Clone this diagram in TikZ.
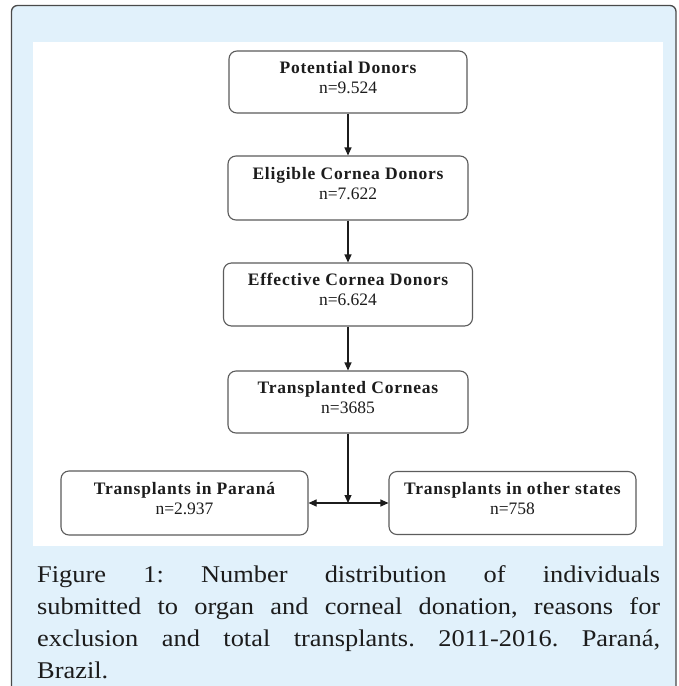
\documentclass[tikz,border=0pt]{standalone}
\usepackage{fontspec}
\setmainfont{Liberation Serif}
\newfontfamily\capfont{Liberation Serif}[FakeStretch=1.1]
\usetikzlibrary{arrows.meta}
\definecolor{panel}{HTML}{E1F1FB}
\definecolor{frame}{HTML}{4A4A4A}
\definecolor{boxline}{HTML}{5C5C5C}
\definecolor{ink}{HTML}{1C1C1C}
% head line (bold, tracked) over count, set a little above the box centre
\newcommand{\boxtext}[2]{\raisebox{3pt}[\height][\depth]{\begin{tabular}{@{}c@{}}%
  {\bfseries\addfontfeature{LetterSpace=4.5}#1}\\#2\end{tabular}}}
\tikzset{
  donorbox/.style={draw=boxline, line width=1.1pt, rounded corners=8pt, fill=white,
    align=center, text=ink, inner sep=0pt, font=\fontsize{17.5}{20}\selectfont},
  flow/.style={draw=ink, line width=1.1pt, -{Triangle[length=8pt,width=7pt]}},
}

\begin{document}
\begin{tikzpicture}[x=1pt, y=-1pt]
\useasboundingbox (0,0) rectangle (678,686);

% ================= frame and panel =================
\begin{scope}
  \clip (0,0) rectangle (678,686);
  \draw[frame, line width=1.3pt, fill=panel, rounded corners=6pt] (11.5,5.5) rectangle (676,730);
\end{scope}
\fill[white] (33,42) rectangle (663,546);

% ================= donor chain =================
\node[donorbox, minimum width=238pt, minimum height=62pt] (pot) at (348,82)  {\boxtext{Potential Donors}{n=9.524}};
\node[donorbox, minimum width=240pt, minimum height=64pt] (eli) at (348,188) {\boxtext{Eligible Cornea Donors}{n=7.622}};
\node[donorbox, minimum width=249pt, minimum height=63pt] (eff) at (348,294.5) {\boxtext{Effective Cornea Donors}{n=6.624}};
\node[donorbox, minimum width=240pt, minimum height=62pt] (tra) at (348,402) {\boxtext{Transplanted Corneas}{n=3685}};

% the two destinations
\node[donorbox, minimum width=247pt, minimum height=64pt] (par) at (184.5,503) {\boxtext{Transplants in Paraná}{n=2.937}};
\node[donorbox, minimum width=247pt, minimum height=63pt] (oth) at (512.5,503) {\boxtext{Transplants in other states}{n=758}};

% ================= arrows =================
\draw[flow] (pot) -- (eli);
\draw[flow] (eli) -- (eff);
\draw[flow] (eff) -- (tra);
\draw[flow] (tra.south) -- (tra.south |- par.east);
\draw[flow, {Triangle[length=8pt,width=7pt]}-{Triangle[length=8pt,width=7pt]}] (par.east) -- (oth.west);

% ================= caption =================
\node[anchor=north west, text width=623pt, align=justify, inner sep=0pt, text=ink,
  font=\capfont\fontsize{24}{32}\selectfont\frenchspacing] (cap) at (37,565)
  {Figure 1: Number distribution of individuals\linebreak
   submitted to organ and corneal donation, reasons for\linebreak
   exclusion and total transplants. 2011-2016. Paraná,\linebreak
   Brazil.};

\end{tikzpicture}
\end{document}
